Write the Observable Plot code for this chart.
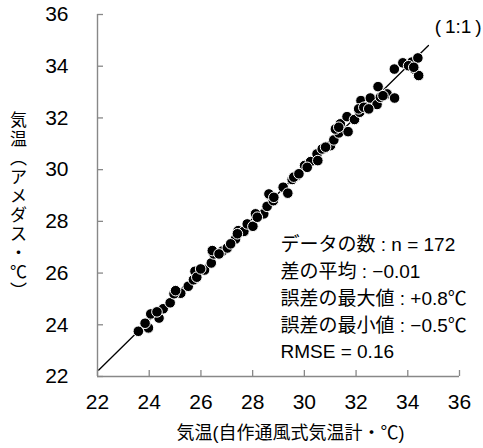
<!DOCTYPE html>
<html>
<head>
<meta charset="utf-8">
<script src="https://cdn.jsdelivr.net/npm/d3@7"></script>
<script src="https://cdn.jsdelivr.net/npm/@observablehq/plot@0.6"></script>
<style>
  html, body { margin: 0; padding: 0; background: #fff; }
  #chart { width: 483px; height: 448px; }
  #chart g[aria-label="x-axis tick label"], #chart g[aria-label="y-axis tick label"] { font-size: 21px; }
</style>
</head>
<body>
<div id="chart"></div>
<script>
// Tick values
const xTicks = [22, 24, 26, 28, 30, 32, 34, 36];
const yTicks = [22, 24, 26, 28, 30, 32, 34, 36];

// 自作通風式気温計 (x) vs アメダス (y)
const jisaku = [
  23.58, 23.97, 24.38, 24.54, 24.81, 25.22, 25.51, 25.71, 25.77, 26.14,
  26.40, 26.50, 26.83, 27.02, 27.34, 27.44, 27.66, 27.79, 28.01, 28.43,
  28.56, 28.69, 28.80, 29.18, 29.36, 29.53, 29.72, 30.01, 30.24, 30.49,
  30.52, 31.01, 31.14, 31.33, 31.39, 31.65, 31.69, 31.94, 32.14, 32.19,
  32.42, 32.55, 32.81, 32.85, 32.94, 33.20, 33.49, 33.48, 33.81, 34.16,
  34.25, 34.39, 34.42,
  23.84, 24.06, 24.30, 24.96, 25.02, 25.84, 25.99, 26.44, 26.70, 27.15,
  27.41, 28.11, 28.18, 28.63, 28.82, 29.59, 29.79, 30.11, 30.69, 30.82,
  31.20, 31.33, 32.10, 32.30, 32.49, 33.04, 34.03, 34.23
];
const amedas = [
  23.75, 23.88, 24.26, 24.62, 24.85, 25.22, 25.49, 25.74, 26.07, 26.12,
  26.39, 26.74, 26.85, 26.97, 27.32, 27.64, 27.61, 27.90, 27.81, 28.29,
  28.58, 29.00, 28.80, 29.32, 29.09, 29.62, 29.77, 30.16, 30.31, 30.61,
  30.35, 30.93, 31.15, 31.42, 31.77, 32.05, 31.47, 31.94, 32.22, 32.67,
  32.44, 32.77, 32.52, 33.21, 32.80, 32.93, 32.77, 33.89, 34.13, 34.16,
  33.89, 34.32, 33.64,
  24.06, 24.42, 24.50, 25.20, 25.32, 25.84, 26.16, 26.87, 26.74, 27.13,
  27.52, 28.29, 28.16, 29.06, 28.93, 29.71, 29.84, 30.09, 30.80, 30.87,
  31.57, 31.64, 32.35, 32.41, 32.35, 32.86, 34.02, 33.96
];

// 1:1 line end points
const lineX = [22.05, 34.8];
const lineY = [22.25, 34.8];

const statsLines = [
  "データの数 : n = 172",
  "差の平均 : −0.01",
  "誤差の最大値 : +0.8℃",
  "誤差の最小値 : −0.5℃",
  "RMSE = 0.16"
];
const yLabel = ["気", "温", "︵", "ア", "メ", "ダ", "ス", "・", "℃", "︶"];
const xLabel = "気温(自作通風式気温計・℃)";
const ratioLabel = "(\u20091:1\u2009)";

const points = jisaku.map((x, i) => ({x, y: amedas[i]}));
const line = lineX.map((x, i) => ({x, y: lineY[i]}));

const font = "'Liberation Sans', 'Noto Sans CJK JP', sans-serif";

const chart = Plot.plot({
  width: 483,
  height: 448,
  marginLeft: 97,
  marginRight: 24,
  marginTop: 14,
  marginBottom: 72,
  style: {fontFamily: font, fontSize: "21px", background: "#fff", color: "#000", overflow: "visible"},
  x: {domain: [22, 36], label: null},
  y: {domain: [22, 36], label: null},
  marks: [
    Plot.ruleX([22], {stroke: "#888", strokeWidth: 1.4}),
    Plot.ruleY([22], {stroke: "#888", strokeWidth: 1.4}),
    Plot.axisX(xTicks, {tickSize: -6, tickPadding: 24, stroke: "#888", strokeWidth: 1.3, fill: "#000", fontSize: 21, label: null}),
    Plot.axisY(yTicks, {tickSize: -6, tickPadding: 35, stroke: "#888", strokeWidth: 1.3, fill: "#000", fontSize: 21, label: null}),
    Plot.line(line, {x: "x", y: "y", stroke: "#000", strokeWidth: 1.3}),
    Plot.dot(points, {x: "x", y: "y", r: 5.3, fill: "#000", stroke: "#fff", strokeWidth: 1}),
    Plot.text([statsLines.join("\n")], {frameAnchor: "top-left", dx: 183, dy: 218, textAnchor: "start", lineAnchor: "top", lineHeight: 1.405, fontSize: 19, fill: "#000"}),
    Plot.text([ratioLabel], {frameAnchor: "top-right", dx: 22, dy: 12, textAnchor: "end", lineAnchor: "middle", fontSize: 19, fill: "#000"}),
    Plot.text([xLabel], {frameAnchor: "bottom", dx: 12, dy: 57, textAnchor: "middle", lineAnchor: "middle", fontSize: 18, fill: "#000"}),
    Plot.text([yLabel.join("\n")], {frameAnchor: "left", dx: -79, dy: 10, textAnchor: "middle", lineAnchor: "middle", lineHeight: 1.12, fontSize: 17, fill: "#000"})
  ]
});
document.getElementById("chart").appendChild(chart);
</script>
</body>
</html>
